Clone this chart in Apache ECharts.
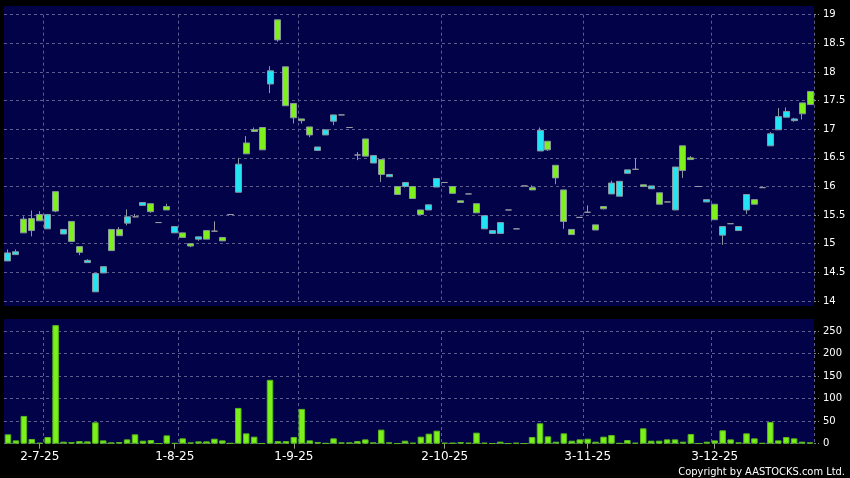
<!DOCTYPE html>
<html><head><meta charset="utf-8">
<script src="https://cdn.jsdelivr.net/npm/echarts@6/dist/echarts.min.js"></script>
<style>html,body{margin:0;padding:0;background:#000;}#c{width:850px;height:478px;}</style>
</head><body><div id="c"></div>
<script>
const opens = [14.70,14.81,15.43,15.44,15.51,15.26,15.91,15.17,15.39,14.95,
 14.67,14.16,14.49,15.25,15.25,15.36,15.47,15.67,15.70,15.37,
 15.65,15.19,15.19,15.00,15.08,15.23,15.22,15.11,15.51,15.90,
 16.76,16.99,17.03,17.79,18.91,18.09,17.45,17.18,17.04,16.63,
 16.90,17.14,17.25,17.03,16.55,16.83,16.41,16.47,16.17,16.00,
 16.00,16.00,15.59,15.59,15.99,16.07,16.00,15.75,15.87,15.70,
 15.26,15.18,15.18,15.59,15.26,16.01,15.98,16.62,16.79,16.37,
 15.94,15.25,15.46,15.55,15.33,15.65,15.87,15.83,16.23,16.30,
 16.03,15.96,15.89,15.73,15.59,16.71,16.50,16.00,15.73,15.69,
 15.15,15.35,15.23,15.59,15.77,15.98,16.71,16.99,17.21,17.15,
 17.46,17.66];
const closes = [14.84,14.86,15.19,15.23,15.40,15.51,15.57,15.25,15.04,14.85,
 14.71,14.48,14.60,14.88,15.14,15.47,15.47,15.72,15.56,15.37,
 15.59,15.30,15.11,14.96,15.12,15.08,15.22,15.05,15.51,16.39,
 16.57,16.96,16.64,18.02,18.56,17.41,17.20,17.15,16.90,16.69,
 16.99,17.25,17.25,17.03,16.55,16.53,16.54,16.21,16.21,15.86,
 16.07,15.79,15.51,15.68,16.14,16.07,15.88,15.72,15.87,15.54,
 15.49,15.23,15.37,15.59,15.26,16.01,15.94,16.98,16.64,16.15,
 15.39,15.16,15.46,15.55,15.24,15.61,16.06,16.09,16.29,16.30,
 16.00,16.01,15.69,15.73,16.34,16.28,16.47,16.00,15.77,15.42,
 15.30,15.35,15.30,15.86,15.69,15.98,16.92,17.22,17.31,17.18,
 17.27,17.43];
const lows = [14.70,14.81,15.19,15.13,15.40,15.26,15.55,15.17,15.04,14.80,
 14.67,14.16,14.49,14.88,15.14,15.32,15.47,15.67,15.54,15.37,
 15.59,15.19,15.11,14.94,15.05,15.08,15.22,15.05,15.51,15.90,
 16.57,16.96,16.64,17.63,18.53,17.41,17.10,17.10,16.86,16.63,
 16.90,17.07,17.25,17.03,16.46,16.53,16.41,16.08,16.17,15.86,
 15.98,15.79,15.51,15.59,15.99,16.07,15.88,15.72,15.87,15.54,
 15.26,15.18,15.18,15.59,15.26,16.01,15.94,16.62,16.62,16.04,
 15.26,15.16,15.46,15.55,15.24,15.60,15.87,15.83,16.23,16.30,
 16.00,15.96,15.69,15.73,15.59,16.15,16.47,16.00,15.73,15.42,
 14.98,15.35,15.23,15.52,15.69,15.98,16.71,16.99,17.21,17.13,
 17.17,17.43];
const highs = [14.90,14.90,15.48,15.58,15.57,15.52,15.91,15.25,15.39,14.95,
 14.73,14.48,14.60,15.25,15.29,15.60,15.52,15.72,15.70,15.37,
 15.70,15.30,15.19,15.00,15.12,15.23,15.39,15.11,15.51,16.50,
 16.88,17.03,17.03,18.10,18.91,18.09,17.45,17.18,17.04,16.69,
 16.99,17.25,17.25,17.03,16.60,16.83,16.54,16.47,16.21,16.00,
 16.07,16.00,15.59,15.68,16.14,16.07,16.00,15.75,15.87,15.70,
 15.49,15.23,15.37,15.59,15.26,16.01,16.02,17.03,16.79,16.37,
 15.94,15.25,15.46,15.67,15.33,15.65,16.10,16.09,16.29,16.49,
 16.03,16.01,15.89,15.73,16.34,16.71,16.53,16.00,15.77,15.69,
 15.30,15.35,15.30,15.86,15.77,15.98,16.95,17.37,17.38,17.20,
 17.46,17.66];
const volumes = [20.8,7.4,61.6,10.4,2,14.8,263,4.5,3.7,5.9,
 5.2,47.5,7.4,3,3.7,9.6,20.8,6.7,8.2,0.7,
 18.5,1.5,11.9,3,5.2,5.2,11.1,7.4,1.5,79.4,
 23,15.6,0.7,141.7,5.9,5.9,14.8,77.2,7.4,3.7,
 1.5,11.9,3,3,5.9,9.6,3,31.2,3,0.7,
 6.7,2.2,15.6,22.3,28.9,2.2,2.2,3.7,2.2,24.5,
 2.2,0.7,4.5,0.7,2.2,0.7,14.8,45.3,16.3,4.5,
 23,6.7,9.6,11.1,4.5,15.6,19.3,1.5,8.2,2.2,
 34.1,6.7,6.7,9.6,9.6,4.5,21.5,0.7,4.5,7.4,
 29.7,9.6,3,23,11.9,1.5,48.2,7.4,14.8,11.9,
 4.5,3];
const dateLabels = ['2-7-25','1-8-25','1-9-25','2-10-25','3-11-25','3-12-25'];
const dateLabelIndex = [4,21,36,55,73,89];
const monthStartIndex = [5,22,37,55,73,89];
const priceMin = 14, priceMax = 19, priceStep = 0.5;
const volMin = 0, volMax = 250, volStep = 50;

const labelAt = {};
dateLabelIndex.forEach((k, j) => { labelAt[k] = dateLabels[j]; });
const categories = opens.map((_, i) => labelAt[i] || ('d' + (i + 1)));
const candles = opens.map((o, i) => [o, closes[i], lows[i], highs[i]]);

const NAVY = '#010248';
const GRIDC = '#5c5c8e';
const FONT = '"DejaVu Sans", sans-serif';

const chart = echarts.init(document.getElementById('c'), null, {renderer: 'canvas'});
chart.setOption({
  backgroundColor: '#000',
  animation: false,
  graphic: [
    {type: 'rect', z: -1, silent: true, shape: {x: 4, y: 6, width: 810, height: 300}, style: {fill: NAVY}},
    {type: 'rect', z: -1, silent: true, shape: {x: 4, y: 319, width: 810, height: 124.7}, style: {fill: NAVY}},
    {type: 'text', x: 845, y: 477.5, silent: true,
     style: {text: 'Copyright by AASTOCKS.com Ltd.', fill: '#fff', align: 'right', verticalAlign: 'bottom',
             font: '11px "DejaVu Sans Condensed", "DejaVu Sans", sans-serif'}}
  ],
  grid: [
    {left: 4, width: 810, top: 14.7, height: 286.3},
    {left: 4, width: 810, top: 331, height: 112.7}
  ],
  xAxis: [
    {type: 'category', gridIndex: 0, data: categories, boundaryGap: true,
     axisLine: {show: false}, axisTick: {show: false}, axisLabel: {show: false},
     splitLine: {show: true, interval: (i) => monthStartIndex.includes(i),
       lineStyle: {color: GRIDC, type: [3, 3], width: 1}}},
    {type: 'category', gridIndex: 1, data: categories, boundaryGap: true,
     axisLine: {show: false},
     axisTick: {show: true, alignWithLabel: true, interval: (i) => dateLabelIndex.includes(i), length: 5,
       lineStyle: {color: '#999'}},
     axisLabel: {show: true, interval: (i) => dateLabelIndex.includes(i), color: '#fff',
       fontFamily: FONT, fontSize: 12, margin: 7},
     splitLine: {show: true, interval: (i) => monthStartIndex.includes(i),
       lineStyle: {color: GRIDC, type: [3, 3], width: 1}}}
  ],
  yAxis: [
    {type: 'value', gridIndex: 0, position: 'right', min: priceMin, max: priceMax, interval: priceStep,
     axisLine: {show: false},
     axisTick: {show: true, length: 5, lineStyle: {color: '#888', type: [2, 2]}},
     axisLabel: {color: '#fff', fontFamily: FONT, fontSize: 10, margin: 9},
     splitLine: {show: true, lineStyle: {color: GRIDC, type: [3, 3], width: 1}}},
    {type: 'value', gridIndex: 1, position: 'right', min: volMin, max: volMax, interval: volStep,
     axisLine: {show: false},
     axisTick: {show: true, length: 5, lineStyle: {color: '#888', type: [2, 2]}},
     axisLabel: {color: '#fff', fontFamily: FONT, fontSize: 10, margin: 9},
     splitLine: {show: true, lineStyle: {color: GRIDC, type: [3, 3], width: 1}}}
  ],
  series: [
    {type: 'candlestick', xAxisIndex: 0, yAxisIndex: 0, data: candles, barWidth: 6.5,
     itemStyle: {color: '#22e4f2', color0: '#7ef01c', borderColor: '#8a96a0', borderColor0: '#8a96a0',
                 borderColorDoji: '#9a9aa0', borderWidth: 1}},
    {type: 'bar', xAxisIndex: 1, yAxisIndex: 1, data: volumes, barWidth: 6.5, clip: false,
     itemStyle: {color: '#7cf01a', borderColor: '#58b818', borderWidth: 1}}
  ]
});
</script></body></html>
